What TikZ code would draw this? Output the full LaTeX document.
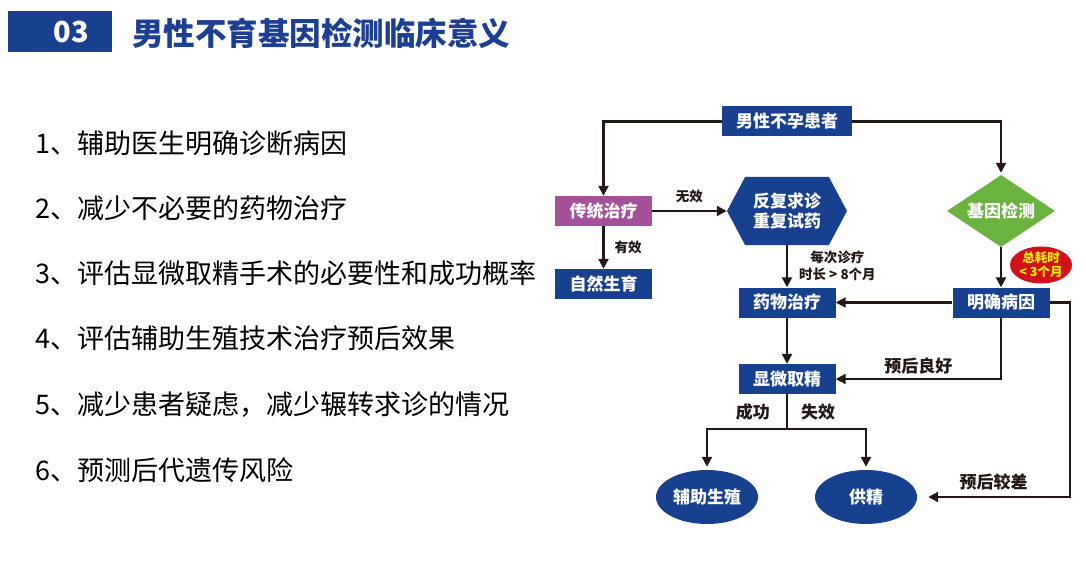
\documentclass[tikz,border=0pt]{standalone}
\usepackage{fontspec}
\setmainfont{Noto Sans CJK SC}
\usetikzlibrary{arrows.meta,shapes.geometric,shapes.symbols}
\definecolor{deepblue}{HTML}{17408F}
\definecolor{titleblue}{HTML}{1D3F92}
\definecolor{trtpurple}{HTML}{A4509B}
\definecolor{genegreen}{HTML}{6AB33F}
\definecolor{tagred}{HTML}{D0121B}
\definecolor{tagyellow}{HTML}{FFF100}
\definecolor{linedark}{HTML}{231815}
\tikzset{
  flowbox/.style={rectangle, fill=deepblue, text=white, minimum width=97pt,
    minimum height=30pt, inner sep=0pt, font=\bfseries\fontsize{17}{20}\selectfont},
  trtbox/.style={flowbox, fill=trtpurple},
  hexbox/.style={signal, signal to=west and east, signal pointer angle=124,
    fill=deepblue, text=white, align=center, minimum width=120pt,
    minimum height=68pt, inner sep=0pt, font=\bfseries\fontsize{17}{20}\selectfont},
  genebox/.style={diamond, aspect=1.5, fill=genegreen, text=white,
    minimum width=108pt, minimum height=72pt, inner sep=0pt,
    font=\bfseries\fontsize{17}{20}\selectfont},
  endell/.style={ellipse, fill=deepblue, text=white, minimum width=102pt,
    minimum height=54pt, inner sep=0pt, font=\bfseries\fontsize{17}{20}\selectfont},
  timetag/.style={ellipse, fill=tagred, text=tagyellow, align=center,
    minimum width=62pt, minimum height=37pt, inner xsep=0pt, inner ysep=-1pt,
    font=\bfseries\fontsize{12.5}{14}\selectfont},
  flow/.style={-{Triangle[length=10pt, width=10pt]}, line width=2.2pt, draw=linedark},
  plainflow/.style={line width=2.2pt, draw=linedark},
  flowlab/.style={font=\bfseries\fontsize{17}{20}\selectfont, text=linedark, inner sep=0pt},
  smalllab/.style={font=\bfseries\fontsize{13.5}{17}\selectfont, text=linedark,
    align=center, inner sep=0pt},
  listitem/.style={anchor=west, inner sep=0pt, font=\fontsize{27}{30}\selectfont},
}
\begin{document}
\begin{tikzpicture}[x=1pt, y=-1pt]
\useasboundingbox (0,0) rectangle (1086,588);
% heading
\node[rectangle, fill=deepblue, text=white, minimum width=104pt, minimum height=41pt,
  inner sep=0pt, font=\bfseries\fontsize{29}{32}\selectfont] (num) at (60,31.5) {\hspace{23pt}03};
\node[anchor=west, inner sep=0pt, text=titleblue, font=\bfseries\fontsize{31.5}{34}\selectfont]
  (title) at (132,33) {男性不育基因检测临床意义};
% list of points
\node[listitem] (item1) at (35,143) {1、辅助医生明确诊断病因};
\node[listitem] (item2) at (35,208) {2、减少不必要的药物治疗};
\node[listitem] (item3) at (35,273) {3、评估显微取精手术的必要性和成功概率};
\node[listitem] (item4) at (35,338) {4、评估辅助生殖技术治疗预后效果};
\node[listitem] (item5) at (35,405) {5、减少患者疑虑，减少辗转求诊的情况};
\node[listitem] (item6) at (35,470) {6、预测后代遗传风险};
% flowchart nodes
\node[flowbox, minimum width=130pt] (patient) at (787,121.5) {男性不孕患者};
\node[trtbox] (trad) at (603.5,211) {传统治疗};
\node[flowbox] (natural) at (603.5,284) {自然生育};
\node[hexbox] (hex) at (787,211) {反复求诊\\重复试药};
\node[genebox] (gene) at (1001,211) {基因检测};
\node[timetag] (time) at (1041,265) {总耗时\\< 3个月};
\node[flowbox] (drug) at (787,302.5) {药物治疗};
\node[flowbox] (cause) at (1001,302.5) {明确病因};
\node[flowbox] (micro) at (787,379) {显微取精};
\node[endell] (art) at (707,497) {辅助生殖};
\node[endell] (donor) at (866,497) {供精};
\coordinate (fork) at (787,429);
\coordinate (rturn) at (1070,302.5);
% connectors
\draw[flow] (patient.west) -| (trad.north);
\draw[flow, shorten >=2pt] (patient.east) -| (gene.north);
\draw[flow] (trad.east) -- node[smalllab, above=7pt] {无效} (hex.west);
\draw[flow] (trad.south) -- node[smalllab, right=10pt] {有效} (natural.north);
\draw[flow] (hex.south) -- node[smalllab, right=11pt] {每次诊疗\\时长 > 8个月} (drug.north);
\draw[flow] (gene.south) -- (cause.north);
\draw[flow] (cause.west) -- (drug.east);
\draw[flow] (drug.south) -- (micro.north);
\draw[flow] (cause.south) |- node[flowlab, pos=.75, above=4pt] {预后良好} (micro.east);
\draw[flow, shorten >=11pt] (cause.east) -- (rturn) |- node[flowlab, pos=.75, above=6pt] {预后较差} (donor.east);
\draw[plainflow] (micro.south) -- node[flowlab, left=16pt] {成功} node[flowlab, right=13pt] {失效} (fork);
\draw[flow, shorten >=3pt] (fork) -| (art.north);
\draw[flow, shorten >=3pt] (fork) -| (donor.north);
\end{tikzpicture}
\end{document}
